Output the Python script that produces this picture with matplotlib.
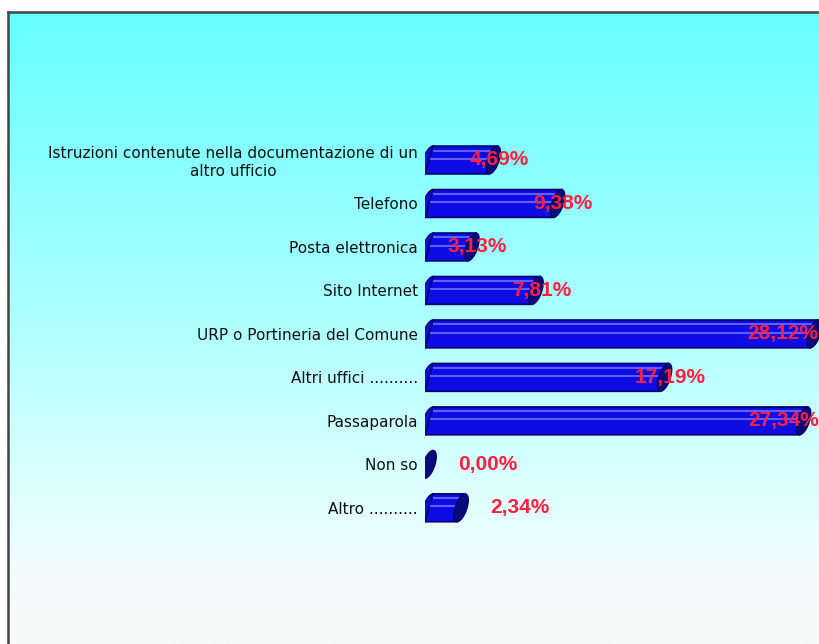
import numpy as np
import matplotlib
matplotlib.use("Agg")
import matplotlib.pyplot as plt
from matplotlib.patches import Polygon
from matplotlib.lines import Line2D
from matplotlib.colors import LinearSegmentedColormap

categories = [
    "Istruzioni contenute nella documentazione di un\naltro ufficio",
    "Telefono",
    "Posta elettronica",
    "Sito Internet",
    "URP o Portineria del Comune",
    "Altri uffici ..........",
    "Passaparola",
    "Non so",
    "Altro ..........",
]
values = [4.69, 9.38, 3.13, 7.81, 28.12, 17.19, 27.34, 0.00, 2.34]
value_labels = ["4,69%", "9,38%", "3,13%", "7,81%", "28,12%", "17,19%", "27,34%", "0,00%", "2,34%"]

W, H = 820, 644
fig = plt.figure(figsize=(W / 100, H / 100), dpi=100)
fig.patch.set_facecolor("white")

# gradient background inside the frame
bg = fig.add_axes([8 / W, 0, 1 - 8 / W, (H - 12) / H])
cmap = LinearSegmentedColormap.from_list(
    "bg", [(0, "#66ffff"), (0.45, "#a8ffff"), (0.75, "#dcffff"), (0.88, "#f2fcfd"), (1, "#f8f9f8")])
grad = np.linspace(0, 1, 256).reshape(-1, 1)
bg.imshow(grad, aspect="auto", cmap=cmap, extent=[0, 1, 1, 0])
bg.set_axis_off()

# frame lines (left and top)
fig.add_artist(Line2D([8 / W, 8 / W], [0, 1 - 12 / H], color="#444444", lw=1.8))
fig.add_artist(Line2D([8 / W, 1], [1 - 12 / H, 1 - 12 / H], color="#444444", lw=1.8))

px_per_unit = 13.7
xmax = (W - 425) / px_per_unit
ax = fig.add_axes([425 / W, (H - 540) / H, (W - 425) / W, 410 / H])
ax.set_facecolor("none")
ax.set_xlim(0, xmax)
ax.set_ylim(8.74, -0.69)
for sp in ax.spines.values():
    sp.set_visible(False)
ax.set_xticks([])
ax.set_yticks(range(len(categories)))
ax.set_yticklabels(categories, fontsize=11, color="#111111", multialignment="center")
ax.tick_params(axis="y", length=0, pad=5)

h = 0.64
s = 8 / px_per_unit
rx = 6 / px_per_unit
body = "#0c0ce4"
edge = "#00006a"
t = np.linspace(0, 2 * np.pi, 60)

for i, v in enumerate(values):
    top, bot = i - h / 2, i + h / 2
    if v > 0:
        ax.add_patch(Polygon([(0, bot), (v, bot), (v + s, top), (s, top)],
                             closed=True, facecolor=body, edgecolor=edge, lw=1.2, zorder=2))
        # rounded left end
        ax.add_patch(Polygon(np.c_[s / 2 + rx * np.cos(t) + s / 2 * np.sin(t), i - h / 2 * np.sin(t)],
                             closed=True, facecolor=body, edgecolor=edge, lw=1.0, zorder=1.9))
        for f in (0.16, 0.45):
            x0 = s * (1 - f)
            ax.plot([x0 + 0.15, v + x0 - 0.1], [top + f * h] * 2, color="#6060ff", lw=1.5, zorder=3)
    # dark end cap
    ax.add_patch(Polygon(np.c_[v + s / 2 + rx * np.cos(t) + s / 2 * np.sin(t), i - h / 2 * np.sin(t)],
                         closed=True, facecolor="#0a0a78", edgecolor=edge, lw=1.0, zorder=4))

    kw = dict(va="center", fontsize=15, fontweight="bold", color="#ff1f3f",
              family="Liberation Sans", zorder=5)
    if v < 3:
        ax.text(v + 2.4, i, value_labels[i], ha="left", **kw)
    elif v + 3.0 > xmax:
        ax.text(xmax - 0.1, i, value_labels[i], ha="right", **kw)
    else:
        ax.text(v + 0.7, i, value_labels[i], ha="center", **kw)

fig.savefig("out.png", dpi=100)
